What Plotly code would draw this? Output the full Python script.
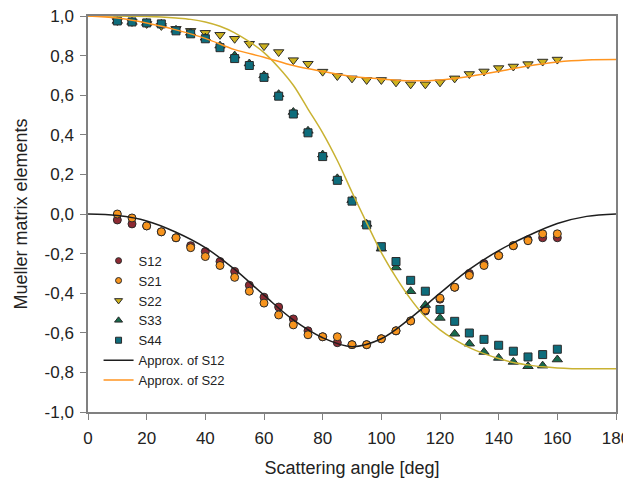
import plotly.graph_objects as go

# ---- data ----
angles = [10, 15, 20, 25, 30, 35, 40, 45, 50, 55, 60, 65, 70, 75, 80, 85, 90, 95,
          100, 105, 110, 115, 120, 125, 130, 135, 140, 145, 150, 155, 160]

s12 = [-0.03, -0.05, -0.06, -0.09, -0.12, -0.16, -0.19, -0.24, -0.29, -0.36, -0.42, -0.47,
       -0.53, -0.59, -0.62, -0.65, -0.66, -0.66, -0.63, -0.59, -0.54, -0.49, -0.43, -0.37,
       -0.30, -0.25, -0.21, -0.16, -0.13, -0.12, -0.12]
s21 = [0.0, -0.02, -0.06, -0.09, -0.12, -0.17, -0.215, -0.26, -0.32, -0.39, -0.45, -0.51,
       -0.56, -0.61, -0.62, -0.62, -0.66, -0.66, -0.63, -0.59, -0.54, -0.485, -0.425, -0.37,
       -0.31, -0.26, -0.21, -0.16, -0.135, -0.10, -0.10]
s22 = [0.975, 0.97, 0.96, 0.95, 0.935, 0.925, 0.915, 0.905, 0.885, 0.86, 0.848, 0.818,
       0.777, 0.759, 0.719, 0.697, 0.685, 0.677, 0.677, 0.665, 0.655, 0.655, 0.665, 0.685,
       0.707, 0.72, 0.737, 0.745, 0.757, 0.77, 0.78]
s33 = [0.975, 0.97, 0.965, 0.96, 0.93, 0.915, 0.89, 0.85, 0.80, 0.76, 0.70, 0.605,
       0.515, 0.42, 0.30, 0.18, 0.07, -0.05, -0.175, -0.27, -0.39, -0.46, -0.525, -0.605,
       -0.655, -0.697, -0.727, -0.747, -0.769, -0.766, -0.735]
s44 = [0.975, 0.97, 0.965, 0.96, 0.925, 0.91, 0.885, 0.84, 0.785, 0.75, 0.69, 0.595,
       0.505, 0.41, 0.29, 0.17, 0.065, -0.055, -0.165, -0.24, -0.335, -0.39, -0.482, -0.542,
       -0.601, -0.633, -0.663, -0.693, -0.722, -0.71, -0.683]

curve_angles = [0, 10, 20, 30, 40, 50, 60, 70, 80, 90, 100, 110, 120, 130, 140, 150, 160, 170, 180]
approx_s12 = [0.0, -0.008, -0.035, -0.092, -0.17, -0.28, -0.41, -0.535, -0.625, -0.67,
              -0.63, -0.525, -0.40, -0.28, -0.185, -0.11, -0.048, -0.012, 0.0]
approx_s22 = [1.0, 0.99, 0.965, 0.93, 0.887, 0.83, 0.792, 0.75, 0.72, 0.695,
              0.682, 0.673, 0.677, 0.695, 0.72, 0.748, 0.768, 0.778, 0.78]

curve2_angles = [0, 5, 10, 15, 20, 25, 30, 35, 40, 45, 50, 55, 60, 65, 70, 75, 80, 85, 90,
                 95, 100, 105, 110, 115, 120, 125, 130, 135, 140, 145, 150, 155, 160, 165,
                 170, 175, 180]
approx_s33 = [1.0, 1.0, 1.0, 0.999, 0.998, 0.995, 0.99, 0.983, 0.97, 0.948, 0.915, 0.87,
              0.815, 0.74, 0.65, 0.53, 0.41, 0.27, 0.11, -0.045, -0.195, -0.32, -0.43,
              -0.52, -0.585, -0.635, -0.675, -0.705, -0.73, -0.75, -0.762, -0.772, -0.778,
              -0.781, -0.782, -0.782, -0.782]

y_tickvals = [-1.0, -0.8, -0.6, -0.4, -0.2, 0.0, 0.2, 0.4, 0.6, 0.8, 1.0]
y_ticktext = ["-1,0", "-0,8", "-0,6", "-0,4", "-0,2", "0,0", "0,2", "0,4", "0,6", "0,8", "1,0"]
x_tickvals = [0, 20, 40, 60, 80, 100, 120, 140, 160, 180]

FONT = "Liberation Sans, Arial, sans-serif"
EDGE = dict(color="#2a2a2a", width=1)

series = [
    (s12, "S12", "circle", "#8E2A33", 8),
    (s21, "S21", "circle", "#F7941D", 8),
    (s22, "S22", "triangle-down", "#CDB21E", 9),
    (s33, "S33", "triangle-up", "#176A4C", 9),
    (s44, "S44", "square", "#0E6D7C", 8),
]

fig = go.Figure()

for y, name, symbol, color, size in series:
    fig.add_trace(go.Scatter(
        x=angles, y=y, mode="markers", name=name, showlegend=False, legendgroup=name,
        marker=dict(symbol=symbol, color=color, size=size, line=EDGE)))

fig.add_trace(go.Scatter(x=curve2_angles, y=approx_s33, mode="lines", showlegend=False,
                         line=dict(color="#C9B232", width=1.5, shape="spline")))
fig.add_trace(go.Scatter(x=curve_angles, y=approx_s12, mode="lines", showlegend=False,
                         legendgroup="a12",
                         line=dict(color="#1e1e1e", width=1.5, shape="spline")))
fig.add_trace(go.Scatter(x=curve_angles, y=approx_s22, mode="lines", showlegend=False,
                         legendgroup="a22",
                         line=dict(color="#FF9520", width=1.5, shape="spline")))

# legend entries (smaller symbols, as in the original legend)
for y, name, symbol, color, size in series:
    fig.add_trace(go.Scatter(x=[None], y=[None], mode="markers", name=name, legendgroup=name,
                             marker=dict(symbol=symbol, color=color, size=size - 2, line=EDGE)))
fig.add_trace(go.Scatter(x=[None], y=[None], mode="lines", name="Approx. of S12",
                         legendgroup="a12", line=dict(color="#1e1e1e", width=1.5)))
fig.add_trace(go.Scatter(x=[None], y=[None], mode="lines", name="Approx. of S22",
                         legendgroup="a22", line=dict(color="#FF9520", width=1.5)))

axis_common = dict(showgrid=False, zeroline=False, showline=True, linecolor="#808080",
                   linewidth=1.5, mirror=True, ticks="outside", ticklen=6, tickwidth=1,
                   tickcolor="#808080", automargin=False, ticklabeloverflow="allow",
                   tickfont=dict(family=FONT, size=17, color="#222"))

fig.update_xaxes(range=[0, 180], tickvals=x_tickvals, ticklabelstandoff=4,
                 title=dict(text="Scattering angle [deg]", font=dict(family=FONT, size=18, color="#222"),
                            standoff=14),
                 **axis_common)
fig.update_yaxes(range=[-1, 1], tickvals=y_tickvals, ticktext=y_ticktext, ticklabelstandoff=3,
                 title=dict(text="Mueller matrix elements", font=dict(family=FONT, size=18, color="#222"),
                            standoff=12),
                 **axis_common)

# page body has an 8px default margin, so the figure is sized/positioned to compensate
fig.update_layout(
    width=623, height=472,
    margin=dict(l=80, r=15, t=8, b=68, autoexpand=False),
    paper_bgcolor="white", plot_bgcolor="white",
    font=dict(family=FONT, color="#222"),
    legend=dict(x=0.02, y=0.42, xanchor="left", yanchor="top",
                bgcolor="rgba(0,0,0,0)", font=dict(family=FONT, size=13, color="#222"),
                tracegroupgap=0),
)

fig.write_html("out.html")
